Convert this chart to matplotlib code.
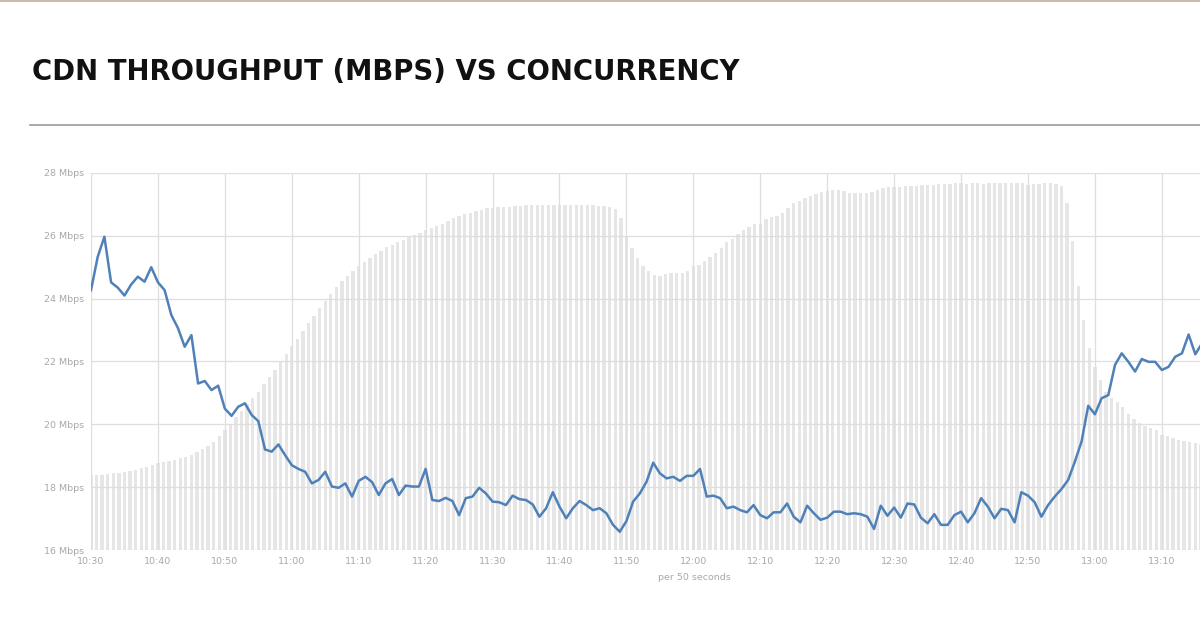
import matplotlib.pyplot as plt
import numpy as np

# throughput (Mbps), one sample per minute starting 10:30
throughput = [
    24.27, 25.33, 25.97, 24.52, 24.35, 24.10, 24.45, 24.70, 24.54, 25.00,
    24.52, 24.27, 23.48, 23.06, 22.47, 22.84, 21.30, 21.38, 21.09, 21.23,
    20.50, 20.27, 20.56, 20.67, 20.30, 20.10, 19.20, 19.13, 19.36, 19.02,
    18.70, 18.58, 18.49, 18.12, 18.23, 18.49, 18.02, 17.98, 18.12, 17.70,
    18.20, 18.33, 18.16, 17.75, 18.12, 18.26, 17.75, 18.05, 18.02, 18.02,
    18.58, 17.59, 17.56, 17.66, 17.56, 17.11, 17.65, 17.70, 17.98, 17.80,
    17.54, 17.52, 17.43, 17.73, 17.62, 17.59, 17.45, 17.06, 17.33, 17.84,
    17.38, 17.01, 17.33, 17.56, 17.43, 17.27, 17.33, 17.17, 16.80, 16.58,
    16.92, 17.54, 17.80, 18.17, 18.78, 18.44, 18.28, 18.33, 18.20, 18.36,
    18.36, 18.58, 17.70, 17.73, 17.65, 17.33, 17.38, 17.27, 17.20, 17.43,
    17.11, 17.01, 17.20, 17.20, 17.48, 17.06, 16.88, 17.41, 17.17, 16.96,
    17.03, 17.22, 17.22, 17.14, 17.17, 17.14, 17.06, 16.67, 17.41, 17.09,
    17.35, 17.03, 17.48, 17.45, 17.03, 16.85, 17.14, 16.80, 16.80, 17.11,
    17.22, 16.88, 17.17, 17.65, 17.38, 17.01, 17.31, 17.27, 16.88, 17.84,
    17.73, 17.52, 17.06, 17.43, 17.70, 17.94, 18.23, 18.81, 19.45, 20.59,
    20.32, 20.83, 20.93, 21.89, 22.26, 21.99, 21.68, 22.08, 21.99, 21.99,
    21.73, 21.83, 22.15, 22.26, 22.86, 22.23, 22.58,
]

# concurrency (relative scale), one bar per 50 seconds starting 10:30
concurrency = [
    19.8, 19.9, 19.9, 20.1, 20.3, 20.5, 20.8, 21.0, 21.3, 21.7, 22.1, 22.5,
    23.0, 23.3, 23.7, 24.0, 24.4, 24.8, 25.3, 25.9, 26.7, 27.6, 28.7, 30.3,
    31.8, 33.4, 35.2, 37.0, 38.7, 40.3, 42.0, 44.1, 45.8, 47.7, 49.8, 51.9,
    54.0, 56.1, 58.2, 60.2, 62.2, 64.2, 66.0, 67.8, 69.7, 71.4, 72.8, 74.1,
    75.3, 76.4, 77.4, 78.4, 79.4, 80.3, 81.0, 81.7, 82.3, 82.9, 83.6, 84.2,
    84.8, 85.4, 86.0, 86.6, 87.3, 88.0, 88.6, 89.1, 89.5, 89.9, 90.3, 90.6,
    90.8, 90.9, 91.0, 91.1, 91.2, 91.3, 91.4, 91.4, 91.5, 91.5, 91.6, 91.5,
    91.5, 91.6, 91.5, 91.4, 91.5, 91.6, 91.4, 91.3, 91.3, 91.1, 90.5, 88.0,
    83.0, 80.1, 77.4, 75.4, 74.0, 73.0, 72.8, 73.1, 73.5, 73.5, 73.4, 74.0,
    75.2, 75.7, 76.6, 77.6, 78.8, 80.2, 81.6, 82.6, 83.8, 84.9, 85.8, 86.5,
    86.6, 87.7, 88.2, 88.7, 89.5, 90.8, 92.0, 92.7, 93.3, 93.9, 94.4, 95.0,
    95.2, 95.4, 95.4, 95.1, 94.8, 94.6, 94.6, 94.7, 94.9, 95.4, 96.0, 96.3,
    96.3, 96.4, 96.5, 96.5, 96.6, 96.8, 96.8, 96.9, 97.0, 97.0, 97.1, 97.3,
    97.3, 97.2, 97.3, 97.3, 97.2, 97.3, 97.3, 97.3, 97.3, 97.3, 97.3, 97.3,
    96.8, 97.0, 97.2, 97.3, 97.3, 97.2, 96.5, 92.0, 82.0, 70.0, 61.0, 53.5,
    48.5, 45.0, 42.0, 40.3, 39.2, 37.8, 36.0, 34.8, 33.7, 32.8, 32.3, 31.7,
    30.6, 30.2, 29.6, 29.2, 28.9, 28.6, 28.3, 28.0,
]

tick_minutes = [0, 10, 20, 30, 40, 50, 60, 70, 80, 90, 100, 110, 120, 130, 140, 150, 160]
tick_labels = ['10:30', '10:40', '10:50', '11:00', '11:10', '11:20', '11:30', '11:40',
               '11:50', '12:00', '12:10', '12:20', '12:30', '12:40', '12:50', '13:00', '13:10']
y_ticks = [16, 18, 20, 22, 24, 26, 28]
y_labels = [f'{v} Mbps' for v in y_ticks]

line_minutes = np.arange(len(throughput))
bar_minutes = np.arange(len(concurrency)) * 50 / 60

fig = plt.figure(figsize=(12, 6.28), dpi=100)
fig.patch.set_facecolor('white')

# thin rule at the very top and separator under the title
fig.add_artist(plt.Line2D([0, 1], [0.998, 0.998], color='#cdbcae', lw=1.5))
fig.add_artist(plt.Line2D([30 / 1200, 1], [1 - 125 / 628] * 2, color='#9a9a9a', lw=1.2))

fig.text(32 / 1200, 1 - 72 / 628, 'CDN THROUGHPUT (MBPS) VS CONCURRENCY',
         fontsize=19.8, fontweight='bold', color='#111111', va='center', ha='left')

axis = fig.add_axes([91 / 1200, 1 - 550 / 628, (1200 - 91) / 1200, (550 - 173) / 628])
bar_axis = axis.twinx()
axis.set_zorder(bar_axis.get_zorder() + 1)
axis.patch.set_visible(False)

bar_axis.bar(bar_minutes, concurrency, width=0.5, color='#e6e6e6', linewidth=0)
bar_axis.set_ylim(0, 100)
bar_axis.set_yticks([])

axis.plot(line_minutes, throughput, color='#4f81b8', lw=1.8)
axis.set_xlim(0, 165.7)
axis.set_ylim(16, 28)
axis.set_yticks(y_ticks, y_labels)
axis.set_xticks(tick_minutes, tick_labels)
axis.grid(color='#dedede', linewidth=0.9)
axis.tick_params(length=0, labelsize=6.8, labelcolor='#a8a8a8', pad=5)
for ax in (axis, bar_axis):
    for s in ax.spines.values():
        s.set_visible(False)

fig.text(694 / 1200, 1 - 577 / 628, 'per 50 seconds', fontsize=6.8, color='#a8a8a8',
         ha='center', va='center')

fig.savefig('out.png', dpi=100)
